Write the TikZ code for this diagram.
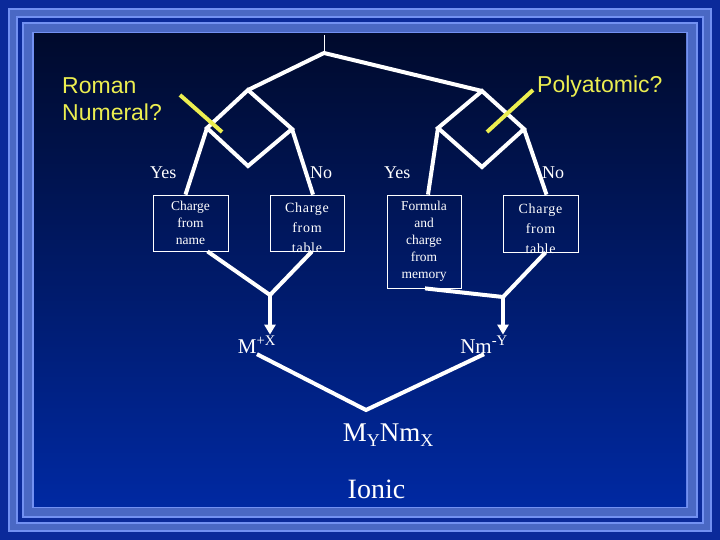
\documentclass[tikz,border=0pt]{standalone}
\usepackage{fontspec}
\setmainfont{Liberation Serif}
\newfontfamily\arialfont{Liberation Sans}
\usetikzlibrary{arrows.meta,calc}
\definecolor{deepblue}{HTML}{0B2A9A}
\definecolor{bandblue}{HTML}{4A68C4}
\definecolor{edgeblue}{HTML}{7391F2}
\definecolor{paneltop}{HTML}{000A2C}
\definecolor{panelbot}{HTML}{0029A2}
\definecolor{signyellow}{HTML}{ECEE50}
\newcommand{\lowsub}[1]{\raisebox{-5pt}{\fontsize{18}{18}\selectfont #1}}

\begin{document}
\begin{tikzpicture}[x=1pt,y=-1pt,
  flow/.style={white,line width=4pt},
  pointer/.style={signyellow,line width=4pt},
  boxnode/.style={draw=white,line width=0.8pt,text=white,align=center,inner sep=0pt,font=\fontsize{13.5}{17}\selectfont},
  tabletext/.style={text=white,align=center,inner sep=0pt,yshift=-5pt,font=\fontsize{14}{20}\selectfont\addfontfeature{LetterSpace=5}},
  answer/.style={text=white,font=\fontsize{18}{20}\selectfont,inner sep=0pt,anchor=base west},
  ion/.style={text=white,font=\fontsize{21}{24}\selectfont,inner sep=1pt,anchor=base},
  question/.style={text=signyellow,font=\arialfont\fontsize{23}{27}\selectfont,inner sep=0pt,align=left}]

% frame
\fill[deepblue] (0,0) rectangle (720,540);
\foreach \d/\c in {8/edgeblue,10/bandblue,16/edgeblue,18/deepblue,22/edgeblue,24/bandblue,32/edgeblue}
  \fill[\c] (\d,\d) rectangle (720-\d,540-\d);
\shade[top color=paneltop,bottom color=panelbot] (34,34) rectangle (686,506);

% questions
\node[question,anchor=north west] (roman) at (62,77) {Roman\\Numeral?};
\node[question,anchor=base west] (poly) at (537,93) {Polyatomic?};

% tree
\coordinate (top) at (324,35);
\coordinate (root) at (324,53);
\coordinate (lt) at (248,90);
\coordinate (ll) at (207,128);
\coordinate (lb) at (248,166);
\coordinate (lr) at (292,129);
\coordinate (rt) at (482,91);
\coordinate (rl) at (438,128);
\coordinate (rb) at (482,167);
\coordinate (rr) at (524,129);

\draw[white,line width=1pt] (top) -- (root);
\draw[flow] (lt) -- (root) -- (rt);
\draw[flow] (lt) -- (ll) -- (lb) -- (lr) -- cycle;
\draw[flow] (rt) -- (rl) -- (rb) -- (rr) -- cycle;

% pointers
\coordinate (pl1) at (180,95);
\coordinate (pl2) at (222,132);
\coordinate (pr1) at (533,90);
\coordinate (pr2) at (487,132);
\draw[pointer] (pl1) -- (pl2);
\draw[pointer] (pr1) -- (pr2);

% answers
\node[answer] (yesL) at (150,179) {Yes};
\node[answer] (noL) at (310,179) {No};
\node[answer] (yesR) at (384,179) {Yes};
\node[answer] (noR) at (542,179) {No};

% boxes
\node[boxnode,minimum width=75,minimum height=56] (nm) at (190.5,223) {Charge\\from\\name};
\node[boxnode,minimum width=74,minimum height=56,
  label={[tabletext]center:Charge\\from\\table}] (tblL) at (307,223) {};
\node[boxnode,minimum width=74,minimum height=93] (frm) at (424,241.5) {Formula\\and\\charge\\from\\memory};
\node[boxnode,minimum width=75,minimum height=57,
  label={[tabletext]center:Charge\\from\\table}] (tblR) at (540.5,223.5) {};

\draw[flow] (ll) -- ($(nm.north)+(-5,0)$);
\draw[flow] (lr) -- ($(tblL.north)+(6,0)$);
\draw[flow] (rl) -- ($(frm.north)+(4,0)$);
\draw[flow] (rr) -- ($(tblR.north)+(6,0)$);

% joins
\coordinate (jl) at (270,295);
\coordinate (jr) at (503,297);
\draw[flow] ($(nm.south)+(17,0)$) -- (jl) -- ($(tblL.south)+(5,0)$);
\draw[flow] ($(frm.south)+(1,0)$) -- (jr) -- ($(tblR.south)+(5,0)$);

% ions
\node[ion] (mx) at (257,353) {M\textsuperscript{+X}};
\node[ion] (nmy) at (484,353) {Nm\textsuperscript{-Y}};
\draw[flow,-{Triangle[width=11pt,length=10pt]}] (jl) -- (jl |- mx.north);
\draw[flow,-{Triangle[width=11pt,length=10pt]}] (jr) -- (jr |- nmy.north);

\coordinate (v) at (366,410);
\draw[flow] (mx.south) -- (v) -- (nmy.south);

\node[ion,font=\fontsize{27}{30}\selectfont] (salt) at (388,441) {M\lowsub{Y}Nm\lowsub{X}};
\node[ion,font=\fontsize{28}{30}\selectfont] (ionic) at (376.5,498) {Ionic};
\end{tikzpicture}
\end{document}
